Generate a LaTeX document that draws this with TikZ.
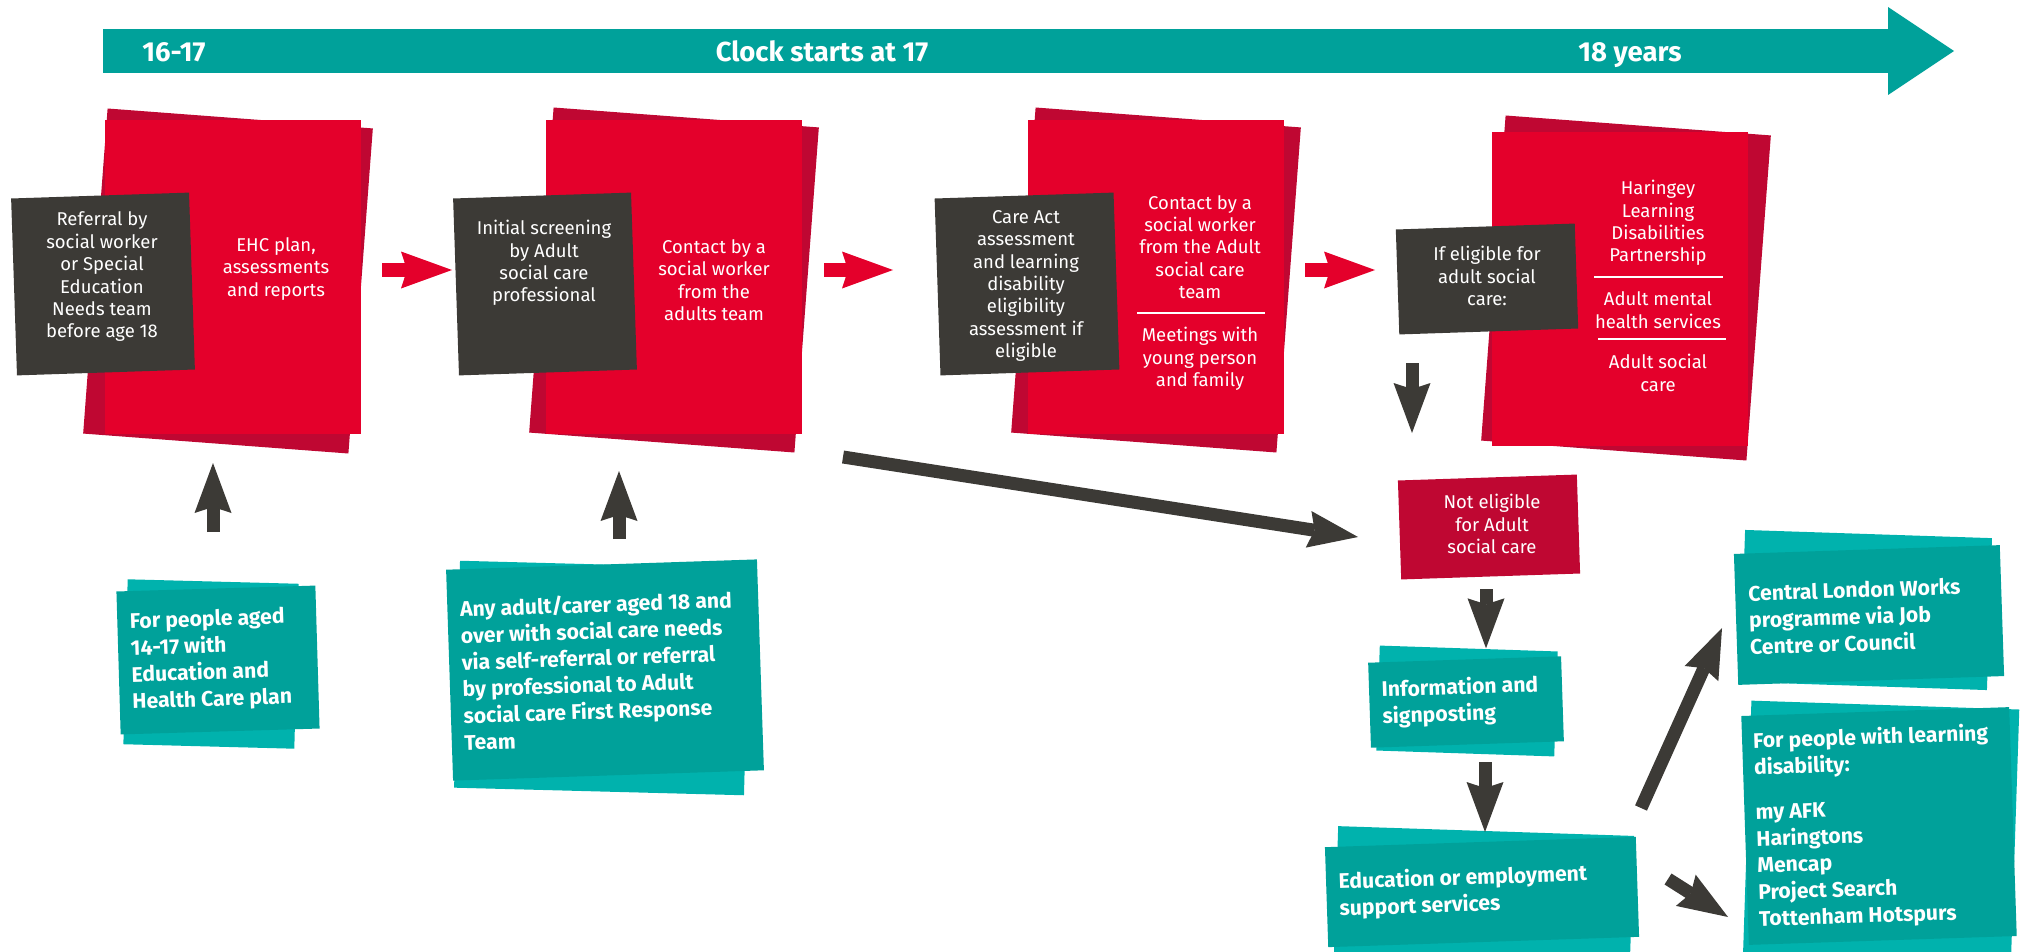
\documentclass[tikz,border=0pt]{standalone}
\usepackage{fontspec}
\setmainfont{Fira Sans}
\usetikzlibrary{arrows.meta}

\definecolor{timeteal}{RGB}{0,161,154}
\definecolor{paleteal}{RGB}{0,178,173}
\definecolor{panelred}{RGB}{228,0,43}
\definecolor{shadered}{RGB}{191,7,50}
\definecolor{slate}{RGB}{60,58,54}

\tikzset{
  backpanel/.style={fill=shadered, inner sep=0pt, rotate=-4.3, minimum width=266pt, minimum height=326pt},
  frontpanel/.style={fill=panelred, inner sep=0pt, minimum width=256pt, minimum height=314pt},
  darkbox/.style={fill=slate, inner sep=0pt, rotate=1.9},
  whitetext/.style={text=white, align=center, inner sep=0pt, font=\fontsize{18.5}{22.4}\selectfont},
  tealback/.style={fill=paleteal, inner sep=0pt, rotate=-1.9},
  tealfront/.style={fill=timeteal, inner sep=0pt, rotate=1.9},
  tealtext/.style={text=white, align=left, anchor=west, rotate=1.9, inner sep=0pt, font=\fontsize{21.2}{26.7}\selectfont\bfseries},
  notebox/.style={fill=shadered, inner sep=0pt, rotate=1.9, minimum width=179pt, minimum height=99pt},
  sepline/.style={white, line width=2pt},
  redarrow/.style={panelred, line width=14pt, -{Stealth[length=51pt,width=37pt,inset=6pt,line width=0pt]}},
  darkarrow/.style={slate, line width=13pt, -{Stealth[length=50pt,width=37pt,inset=6pt,line width=0pt]}},
  timeline/.style={timeteal, line width=44pt, -{Triangle[length=66pt,width=88pt,line width=0pt]}},
  timetext/.style={text=white, anchor=base, inner sep=0pt, font=\fontsize{27.5}{30}\selectfont\bfseries},
}

\begin{document}
\begin{tikzpicture}[x=1pt,y=-1pt]
\useasboundingbox (0,0) rectangle (2025,952);

% Drawing the time line
\coordinate (tstart) at (103,51);%
\coordinate (tend) at (1954,51);%
\draw [timeline] (tstart) -- (tend);%
\node [timetext] (age1) at (174,62) {16-17};%
\node [timetext] (clock) at (822,62) {Clock starts at 17};%
\node [timetext] (age3) at (1630,62) {18 years};%

% Drawing panel 1
\node [backpanel] (back1) at (228,281) {};%
\node [frontpanel] (front1) at (233,277) {};%
\node [darkbox, minimum width=178pt, minimum height=177pt] (dark1) at (103,284) {};%
\node [whitetext] (referral) at (102,277) {Referral by\\social worker\\or Special\\Education\\Needs team\\before age 18};%
\node [whitetext] (ehc) at (276,269) {EHC plan,\\assessments\\and reports};%

% Drawing panel 2
\node [backpanel] (back2) at (674,280) {};%
\node [frontpanel] (front2) at (674,277) {};%
\node [darkbox, minimum width=178pt, minimum height=177pt] (dark2) at (545,284) {};%
\node [whitetext] (screening) at (544,263) {Initial screening\\by Adult\\social care\\professional};%
\node [whitetext] (contact1) at (714,280) {Contact by a\\social worker\\from the\\adults team};%

% Drawing panel 3
\node [backpanel] (back3) at (1156,280) {};%
\node [frontpanel] (front3) at (1156,277) {};%
\node [darkbox, minimum width=179pt, minimum height=177pt] (dark3) at (1027,284) {};%
\node [whitetext] (careact) at (1026,286) {Care Act\\assessment\\and learning\\disability\\eligibility\\assessment if\\eligible};%
\node [whitetext] (contact2) at (1200,247) {Contact by a\\social worker\\from the Adult\\social care\\team};%
\draw [sepline] (1137,313) -- (1265,313);%
\node [whitetext] (meetings) at (1200,359) {Meetings with\\young person\\and family};%

% Drawing panel 4
\node [backpanel] (back4) at (1626,288) {};%
\node [frontpanel] (front4) at (1620,289) {};%
\node [darkbox, minimum width=179pt, minimum height=105pt] (dark4) at (1487,279) {};%
\node [whitetext] (eligible) at (1487,276) {If eligible for\\adult social\\care:};%
\node [whitetext] (haringey) at (1658,223) {Haringey\\Learning\\Disabilities\\Partnership};%
\draw [sepline] (1594,277) -- (1723,277);%
\node [whitetext] (mental) at (1658,310) {Adult mental\\health services};%
\draw [sepline] (1598,339) -- (1726,339);%
\node [whitetext] (adultcare) at (1658,373) {Adult social\\care};%

% Drawing the red arrows
\coordinate (r1a) at (382,270);%
\coordinate (r1b) at (452,270);%
\draw [redarrow] (r1a) -- (r1b);%
\coordinate (r2a) at (824,270);%
\coordinate (r2b) at (893,270);%
\draw [redarrow] (r2a) -- (r2b);%
\coordinate (r3a) at (1305,270);%
\coordinate (r3b) at (1375,270);%
\draw [redarrow] (r3a) -- (r3b);%

% Drawing the teal boxes on the left
\node [tealback, minimum width=171pt, minimum height=165pt, rotate=0.4] (agedback) at (211,664) {};%
\node [tealfront, minimum width=199pt, minimum height=143pt, rotate=-0.2] (aged) at (218,660) {};%
\node [tealtext] (agedtext) at (131,663) {For people aged\\14-17 with\\Education and\\Health Care plan};%
\node [tealback, minimum width=290pt, minimum height=227pt, rotate=0.4] (adultback) at (602,678) {};%
\node [tealfront, minimum width=311pt, minimum height=211pt] (adult) at (605,670) {};%
\node [tealtext] (adulttext) at (462,675) {Any adult/carer aged 18 and\\over with social care needs\\via self-referral or referral\\by professional to Adult\\social care First Response\\Team};%

% Drawing the not eligible branch
\node [notebox] (noteligible) at (1489,527) {};%
\node [whitetext] (notext) at (1492,524) {Not eligible\\for Adult\\social care};%
\node [tealback, minimum width=178pt, minimum height=105pt] (infoback) at (1467,701) {};%
\node [tealfront, minimum width=193pt, minimum height=85pt] (info) at (1466,702) {};%
\node [tealtext] (infotext) at (1382,704) {Information and\\signposting};%
\node [tealback, minimum width=296pt, minimum height=128pt] (eduback) at (1484,895) {};%
\node [tealfront, minimum width=311pt, minimum height=100pt] (edu) at (1482,892) {};%
\node [tealtext] (edutext) at (1339,896) {Education or employment\\support services};%
\node [tealback, minimum width=247pt, minimum height=152pt] (clwback) at (1866,610) {};%
\node [tealfront, minimum width=266pt, minimum height=131pt] (clw) at (1869,615) {};%
\node [tealtext] (clwtext) at (1749,620) {Central London Works\\programme via Job\\Centre or Council};%
\node [tealback, minimum width=268pt, minimum height=262pt] (ldback) at (1881,836) {};%
\node [tealfront, minimum width=268pt, minimum height=229pt] (ld) at (1879,826) {};%
\node [tealtext] (ldtext) at (1756,831) {For people with learning\\disability:\\[18pt]my AFK\\Haringtons\\Mencap\\Project Search\\Tottenham Hotspurs};%

% Drawing the dark arrows
\coordinate (u1a) at (213,532);%
\coordinate (u1b) at (213,463);%
\draw [darkarrow] (u1a) -- (u1b);%
\coordinate (u2a) at (619,539);%
\coordinate (u2b) at (619,471);%
\draw [darkarrow] (u2a) -- (u2b);%
\coordinate (d1a) at (1412,363);%
\coordinate (d1b) at (1412,433);%
\draw [darkarrow] (d1a) -- (d1b);%
\coordinate (s1a) at (843,457);%
\coordinate (s1b) at (1358,537);%
\draw [darkarrow] (s1a) -- (s1b);%
\coordinate (d2a) at (1486,589);%
\draw [darkarrow] (d2a) -- (d2a |- infoback.north);%
\coordinate (d3a) at (1485,762);%
\coordinate (d3b) at (1485,832);%
\draw [darkarrow] (d3a) -- (d3b);%
\coordinate (e1a) at (1641,808);%
\coordinate (e1b) at (1722,628);%
\draw [darkarrow] (e1a) -- (e1b);%
\coordinate (e2a) at (1668,879);%
\coordinate (e2b) at (1728,917);%
\draw [darkarrow] (e2a) -- (e2b);%
\end{tikzpicture}
\end{document}
